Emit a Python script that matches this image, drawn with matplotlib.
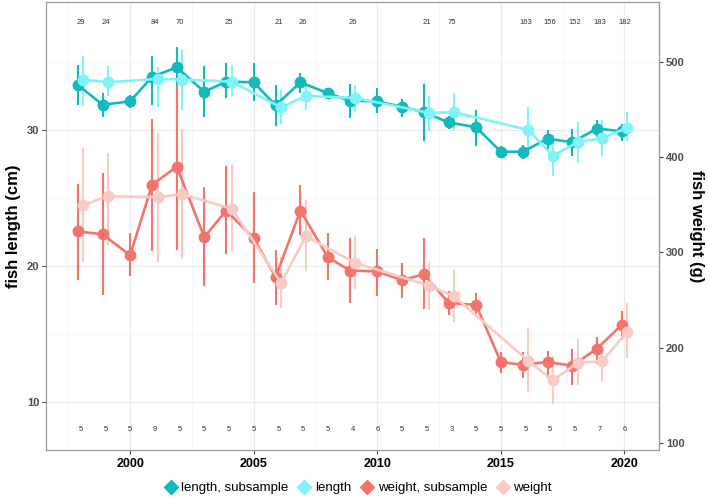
import numpy as np
from matplotlib import pyplot as plt
from matplotlib.lines import Line2D
from matplotlib.ticker import MultipleLocator, FixedLocator

plt.rcParams['font.family'] = ['Liberation Sans', 'DejaVu Sans']

# subsample (all years)
years_sub = np.arange(1998, 2021)
len_sub = [33.3, 31.85, 32.1, 33.9, 34.6, 32.8, 33.55, 33.5, 31.8, 33.5, 32.7, 32.15,
           32.1, 31.7, 31.3, 30.55, 30.2, 28.4, 28.4, 29.35, 29.1, 30.1, 29.9]
len_sub_lo = [31.8, 30.95, 31.6, 31.8, 32.9, 30.95, 32.35, 32.1, 30.3, 32.7, 32.35, 30.9,
              31.25, 30.95, 29.15, 30.1, 28.8, 28.05, 27.9, 28.6, 28.1, 29.5, 29.2]
len_sub_hi = [34.8, 32.7, 32.6, 35.4, 36.1, 34.7, 34.9, 34.95, 33.3, 34.2, 33.0, 33.4,
              33.1, 32.3, 33.4, 31.0, 31.5, 28.8, 28.9, 30.0, 30.1, 30.7, 30.4]
wt_sub = [322, 319, 297, 371, 390, 316, 344, 315, 274, 344, 295, 281,
          280, 271, 277, 247, 245, 185, 182, 185, 181, 199, 224]
wt_sub_lo = [271, 255, 275, 301, 303, 265, 298, 268, 245, 318, 271, 247,
             254, 252, 241, 234, 232, 173, 168, 168, 161, 183, 208]
wt_sub_hi = [372, 383, 320, 440, 476, 369, 391, 363, 303, 371, 320, 315,
             304, 289, 315, 259, 257, 196, 195, 197, 199, 211, 238]
n_sub = [5, 5, 5, 9, 5, 5, 5, 5, 5, 5, 5, 4, 6, 5, 5, 3, 5, 5, 5, 5, 5, 7, 6]

# full sample
years_full = np.array([1998, 1999, 2001, 2002, 2004, 2006, 2007, 2009, 2012, 2013,
                       2016, 2017, 2018, 2019, 2020])
len_full = [33.7, 33.5, 33.75, 33.7, 33.55, 31.65, 32.5, 32.35, 31.25, 31.3,
            30.0, 28.1, 29.1, 29.4, 30.15]
len_full_lo = [31.75, 32.5, 31.7, 31.5, 32.5, 30.4, 31.5, 31.35, 29.9, 30.0,
               28.05, 26.6, 27.55, 28.1, 29.15]
len_full_hi = [35.4, 34.7, 34.6, 35.9, 34.8, 32.9, 33.4, 33.3, 32.5, 32.7,
               31.65, 29.6, 30.6, 30.7, 31.35]
wt_full = [350, 359, 358, 361, 346, 268, 317, 289, 265, 254, 186, 166, 184, 186, 217]
wt_full_lo = [290, 308, 290, 293, 301, 242, 281, 262, 240, 227, 154, 141, 161, 165, 189]
wt_full_hi = [410, 404, 425, 430, 392, 295, 355, 317, 289, 282, 221, 191, 209, 202, 247]
n_full = [29, 24, 84, 70, 25, 21, 26, 26, 21, 75, 163, 156, 152, 183, 182]

weight_ticks = [100, 200, 300, 400, 500]
labels = ['length, subsample', 'length', 'weight, subsample', 'weight']
colors = ['#12B9BD', '#7EF4F6', '#F4746B', '#F9CBC5']

scale = 0.07  # 100 g on the right axis = 7 cm on the left axis
dodge = 0.11

x_sub = years_sub - dodge * np.isin(years_sub, years_full)
x_full = years_full + dodge

fig = plt.figure(figsize=(7.09, 4.97), dpi=100)
ax = fig.add_axes([0.065, 0.095, 0.8645, 0.901])


def draw(x, y, lo, hi, color, f=1.0):
    y = np.array(y) * f
    ax.vlines(x, np.array(lo) * f, np.array(hi) * f, color=color, lw=1.5, zorder=3)
    ax.plot(x, y, color=color, lw=1.9, marker='o', markersize=7.5, zorder=4)


draw(x_sub, len_sub, len_sub_lo, len_sub_hi, colors[0])
draw(x_full, len_full, len_full_lo, len_full_hi, colors[1])
draw(x_sub, wt_sub, wt_sub_lo, wt_sub_hi, colors[2], scale)
draw(x_full, wt_full, wt_full_lo, wt_full_hi, colors[3], scale)

for yr, n in zip(years_sub, n_sub):
    ax.text(yr, 8.0, str(n), ha='center', va='center', fontsize=5.5, color='#333333')
for yr, n in zip(years_full, n_full):
    ax.text(yr, 37.9, str(n), ha='center', va='center', fontsize=5.5, color='#333333')

ax.set_xlim(1996.6, 2021.4)
ax.set_ylim(6.5, 39.4)
ax.xaxis.set_major_locator(MultipleLocator(5))
ax.xaxis.set_minor_locator(MultipleLocator(2.5))
ax.yaxis.set_major_locator(MultipleLocator(10))
ax.yaxis.set_minor_locator(MultipleLocator(5))
ax.grid(which='major', color='#EBEBEB', lw=0.8, zorder=0)
ax.grid(which='minor', color='#F3F3F3', lw=0.5, zorder=0)
ax.set_axisbelow(True)
for s in ax.spines.values():
    s.set_color('#9A9A9A')
    s.set_linewidth(0.9)
ax.tick_params(which='minor', length=0)
ax.tick_params(axis='y', which='major', length=3, color='#444444', labelsize=8,
               labelcolor='#4D4D4D', pad=2)
ax.tick_params(axis='x', which='major', length=3, color='#444444', labelsize=9, pad=3)
for t in ax.get_yticklabels():
    t.set_fontweight('bold')
for t in ax.get_xticklabels():
    t.set_fontweight('bold')
ax.set_ylabel('fish length (cm)', fontsize=12, fontweight='bold', labelpad=4)

sec = ax.secondary_yaxis('right', functions=(lambda v: v / scale, lambda v: v * scale))
sec.yaxis.set_major_locator(FixedLocator(weight_ticks))
sec.spines['right'].set_color('#9A9A9A')
sec.tick_params(length=3, color='#444444', labelsize=8, labelcolor='#4D4D4D', pad=2)
for t in sec.get_yticklabels():
    t.set_fontweight('bold')
sec.set_ylabel('fish weight (g)', fontsize=12, fontweight='bold', rotation=-90,
               labelpad=14)

handles = [Line2D([], [], color=c, marker='D', linestyle='None', markersize=7.5)
           for c in colors]
fig.legend(handles, labels, loc='center', bbox_to_anchor=(0.505, 0.018), ncol=4,
           frameon=False, fontsize=9.5, handletextpad=0.3, columnspacing=0.7,
           handlelength=1.0)

fig.savefig('out.png', dpi=100)
